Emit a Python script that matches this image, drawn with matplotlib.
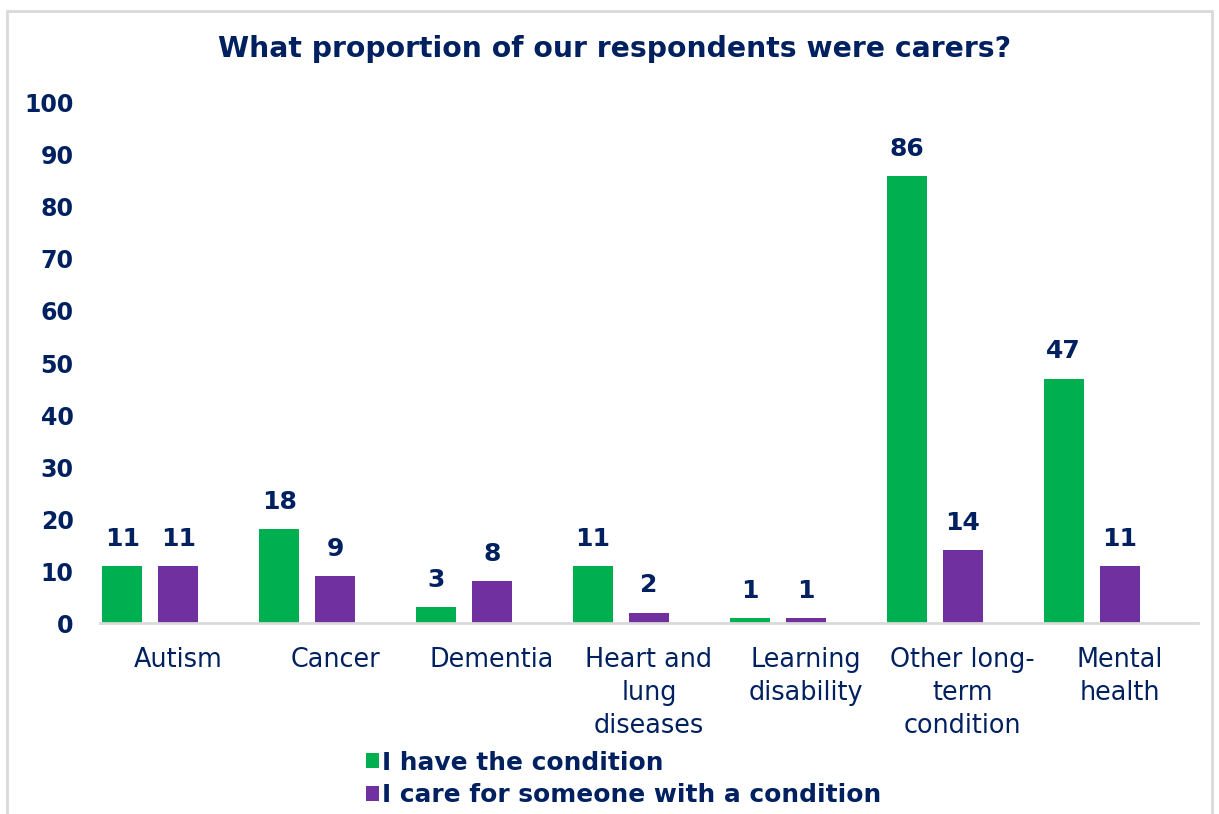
import numpy as np
import matplotlib.pyplot as plt
from matplotlib.patches import Rectangle

# данные
categories = ["Autism", "Cancer", "Dementia", "Heart and\nlung\ndiseases",
              "Learning\ndisability", "Other long-\nterm\ncondition", "Mental\nhealth"]
have_condition = [11, 18, 3, 11, 1, 86, 47]
care_for_someone = [11, 9, 8, 2, 1, 14, 11]
series_names = ["I have the condition", "I care for someone with a condition"]
yticks = [0, 10, 20, 30, 40, 50, 60, 70, 80, 90, 100]

navy = "#002060"
green = "#00B050"
purple = "#7030A0"

plt.rcParams['font.family'] = ['DejaVu Sans']

fig = plt.figure(figsize=(12.19, 8.14), dpi=100)
ax = fig.add_axes([0.082, 0.2346, 0.9008, 0.6389])

x = np.arange(len(categories))
w = 0.255
step = 0.357
b1 = ax.bar(x - step, have_condition, w, color=green, label=series_names[0])
b2 = ax.bar(x, care_for_someone, w, color=purple, label=series_names[1])

for bars in (b1, b2):
    ax.bar_label(bars, padding=11, color=navy, fontsize=18, fontweight='bold')

ax.set_xlim(-0.5, len(categories) - 0.5)
ax.set_ylim(0, 100)
ax.set_yticks(yticks)
ax.set_xticks(x)
ax.set_xticklabels(categories, color=navy, fontsize=18.4, linespacing=1.36)
ax.tick_params(axis='y', length=0, pad=19, labelsize=17, labelcolor=navy)
for lab in ax.get_yticklabels():
    lab.set_fontweight('bold')
ax.tick_params(axis='x', length=0, pad=17)

for s in ['top', 'right', 'left']:
    ax.spines[s].set_visible(False)
ax.spines['bottom'].set_color('#D9D9D9')
ax.spines['bottom'].set_linewidth(2)

ax.set_title("What proportion of our respondents were carers?", color=navy,
             fontsize=20.3, fontweight='bold', pad=33, x=0.469)

fig.legend(handles=[b1, b2], loc='upper left', bbox_to_anchor=(0.300, 0.078),
           frameon=False, handlelength=0.55, handleheight=0.55, handletextpad=0.1,
           labelspacing=0.35, borderaxespad=0, borderpad=0,
           prop={'size': 17.9, 'weight': 'bold'}, labelcolor=navy)

fig.patches.append(Rectangle((7 / 1219, -0.01), 1205 / 1219, 1 - 11 / 814 + 0.01,
                             transform=fig.transFigure, fill=False,
                             edgecolor='#D9D9D9', linewidth=2))

fig.savefig("out.png", dpi=100)
